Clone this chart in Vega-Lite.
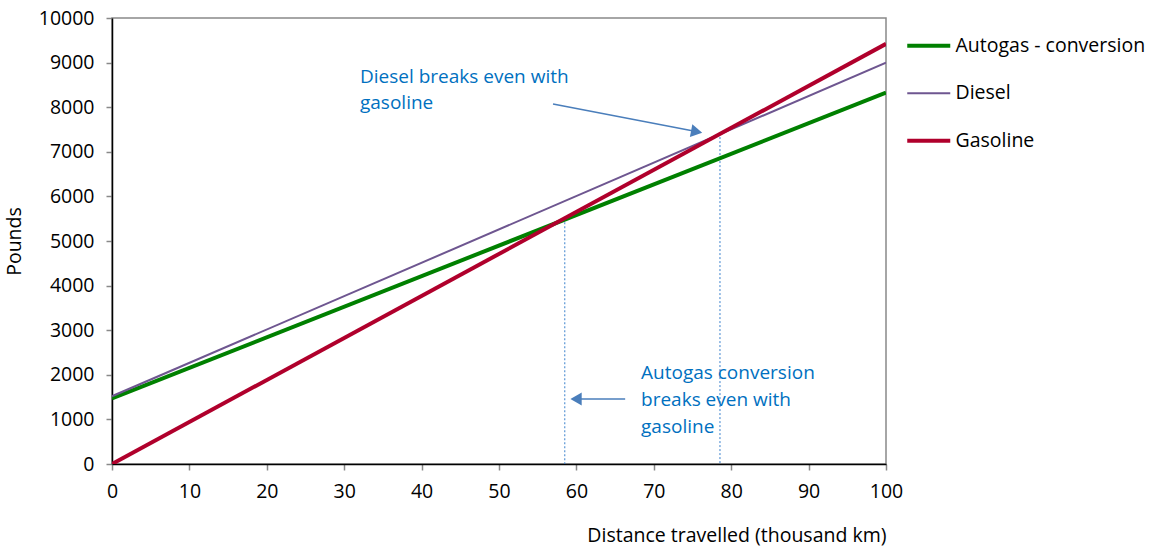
{
  "$schema": "https://vega.github.io/schema/vega-lite/v6.json",
  "width": 774,
  "height": 446,
  "autosize": "none",
  "padding": {"left": 112, "top": 18, "right": 270, "bottom": 89},
  "background": "white",
  "config": {
    "font": "Open Sans",
    "view": {"stroke": "#898989", "strokeWidth": 1.5},
    "axis": {"grid": false, "labelFont": "Open Sans", "titleFont": "Open Sans", "labelFontSize": 19.5, "titleFontSize": 19.5, "labelColor": "#000", "titleColor": "#000", "titleFontWeight": "normal", "domainColor": "#000", "domainWidth": 1.5, "tickColor": "#898989", "tickWidth": 1.5, "tickSize": 6, "labelFlush": false, "labelOverlap": false}
  },
  "datasets": {
    "lines": [
      {"series": "Autogas - conversion", "km": 0, "pounds": 1470},
      {"series": "Autogas - conversion", "km": 100, "pounds": 8325},
      {"series": "Diesel", "km": 0, "pounds": 1520},
      {"series": "Diesel", "km": 100, "pounds": 9000},
      {"series": "Gasoline", "km": 0, "pounds": 0},
      {"series": "Gasoline", "km": 100, "pounds": 9420}
    ],
    "drops": [
      {"km": 58.5, "top": 5510, "bottom": 0},
      {"km": 78.55, "top": 7420, "bottom": 0}
    ],
    "notes": [
      {"label": "Diesel breaks even with", "km": 32.04, "pounds": 8677},
      {"label": "gasoline", "km": 32.04, "pounds": 8094},
      {"label": "Autogas conversion", "km": 68.35, "pounds": 2040},
      {"label": "breaks even with", "km": 68.35, "pounds": 1435},
      {"label": "gasoline", "km": 68.35, "pounds": 830}
    ],
    "arrows": [
      {"x1": 56.98, "y1": 8072, "x2": 75.3, "y2": 7460, "angle": 100.8},
      {"x1": 66.3, "y1": 1457, "x2": 60.2, "y2": 1457, "angle": 270}
    ]
  },
  "layer": [
    {
      "data": {"name": "drops"},
      "mark": {"type": "rule", "color": "#3A80CC", "strokeWidth": 1, "strokeDash": [2, 2]},
      "encoding": {
        "x": {"field": "km", "type": "quantitative", "scale": {"domain": [0, 100]}},
        "y": {"field": "top", "type": "quantitative", "scale": {"domain": [0, 10000]}},
        "y2": {"field": "bottom"}
      }
    },
    {
      "data": {"name": "lines"},
      "mark": {"type": "line", "clip": true},
      "encoding": {
        "x": {"field": "km", "type": "quantitative", "title": "Distance travelled (thousand km)", "scale": {"domain": [0, 100], "nice": false},
          "axis": {"values": [0,10,20,30,40,50,60,70,80,90,100], "format": "d", "titleAnchor": "end", "titlePadding": 26, "labelPadding": 12}},
        "y": {"field": "pounds", "type": "quantitative", "title": "Pounds", "scale": {"domain": [0, 10000], "nice": false},
          "axis": {"values": [0,1000,2000,3000,4000,5000,6000,7000,8000,9000,10000], "format": "d", "titlePadding": 14, "labelPadding": 12}},
        "color": {"field": "series", "type": "nominal", "title": null,
          "scale": {"domain": ["Autogas - conversion", "Diesel", "Gasoline"], "range": ["#008000", "#6E5690", "#B0002C"]},
          "legend": {"orient": "none", "legendX": 807, "legendY": 18, "symbolType": "stroke", "symbolSize": 1850, "labelFontSize": 19.5, "labelFont": "Open Sans", "labelColor": "#000", "labelLimit": 0, "rowPadding": 26.5, "labelOffset": 17,
            "encode": {"symbols": {"update": {"strokeWidth": {"signal": "datum.value === 'Diesel' ? 2 : 4"}}}}}},
        "strokeWidth": {"condition": {"test": "datum.series === 'Diesel'", "value": 2}, "value": 4}
      }
    },
    {
      "data": {"name": "arrows"},
      "mark": {"type": "rule", "color": "#4A7EBB", "strokeWidth": 1.5},
      "encoding": {
        "x": {"field": "x1", "type": "quantitative"},
        "y": {"field": "y1", "type": "quantitative"},
        "x2": {"field": "x2"},
        "y2": {"field": "y2"}
      }
    },
    {
      "data": {"name": "arrows"},
      "mark": {"type": "point", "shape": "triangle", "filled": true, "color": "#4A7EBB", "size": 170, "opacity": 1},
      "encoding": {
        "x": {"field": "x2", "type": "quantitative"},
        "y": {"field": "y2", "type": "quantitative"},
        "angle": {"field": "angle", "type": "quantitative", "scale": null}
      }
    },
    {
      "data": {"name": "notes"},
      "mark": {"type": "text", "align": "left", "baseline": "middle", "color": "#0070C0", "fontSize": 19, "font": "Open Sans"},
      "encoding": {
        "x": {"field": "km", "type": "quantitative"},
        "y": {"field": "pounds", "type": "quantitative"},
        "text": {"field": "label"}
      }
    }
  ]
}
